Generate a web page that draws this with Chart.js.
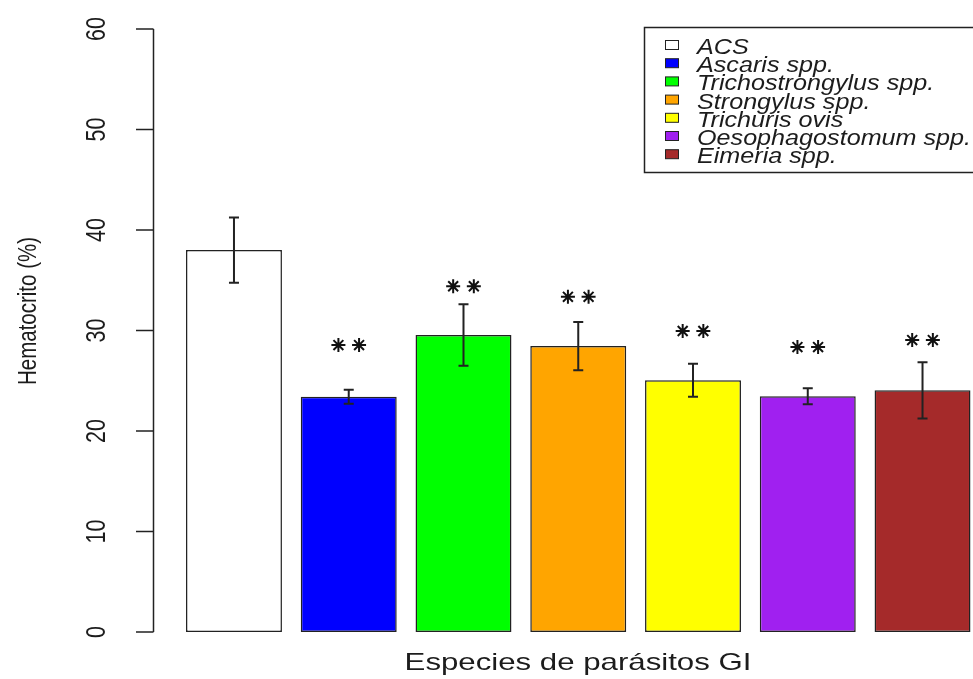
<!DOCTYPE html>
<html>
<head>
<meta charset="utf-8">
<title>Hematocrito por especie de parásito</title>
<script src="https://cdn.jsdelivr.net/npm/chart.js@4.4.1/dist/chart.umd.min.js"></script>
<style>
    html, body { margin: 0; padding: 0; background: #fff; overflow: hidden; }
    #chart { position: absolute; left: 0; top: 0; }
</style>
</head>
<body>
<canvas id="chart" width="990" height="679"></canvas>
<script>
const especies = ['ACS', 'Ascaris spp.', 'Trichostrongylus spp.', 'Strongylus spp.', 'Trichuris ovis', 'Oesophagostomum spp.', 'Eimeria spp.'];
const hematocrito = [38.0, 23.4, 29.55, 28.45, 25.05, 23.45, 24.05];
const errorBarra = [3.25, 0.7, 3.05, 2.4, 1.65, 0.8, 2.8];
// altura de los "**" (null = sin diferencia)
const alturaAsteriscos = [null, 28.55, 34.4, 33.35, 29.95, 28.35, 29.05];
const coloresBarras = ['#ffffff', '#0000ff', '#00ff00', '#ffa500', '#ffff00', '#a020f0', '#a52a2a'];
const ticksY = [0, 10, 20, 30, 40, 50, 60];

const TEXTO = '#1c1c1c';
const ESTIRA = 1.28; // the picture is wider than tall, text too

const puntosAsteriscos = [];
alturaAsteriscos.forEach((h, i) => {
    if (h !== null) {
        puntosAsteriscos.push({ x: i - 0.09, y: h });
        puntosAsteriscos.push({ x: i + 0.09, y: h });
    }
});

function drawText(ctx, text, x, y, size, sx, rot, align) {
    ctx.save();
    ctx.translate(x, y);
    ctx.scale(sx, 1);
    ctx.rotate(rot);
    ctx.font = size + 'px "Liberation Sans", Arial, sans-serif';
    ctx.textAlign = align || 'center';
    ctx.textBaseline = 'middle';
    ctx.fillStyle = TEXTO;
    ctx.fillText(text, 0, 0);
    ctx.restore();
}

const errorBars = {
    id: 'errorBars',
    afterDatasetsDraw(chart) {
        const ctx = chart.ctx;
        const y = chart.scales.y;
        const bars = chart.getDatasetMeta(0).data;
        ctx.save();
        ctx.strokeStyle = '#222';
        ctx.lineWidth = 2;
        bars.forEach((bar, i) => {
            const top = y.getPixelForValue(hematocrito[i] + errorBarra[i]);
            const bottom = y.getPixelForValue(hematocrito[i] - errorBarra[i]);
            ctx.beginPath();
            ctx.moveTo(bar.x, top);
            ctx.lineTo(bar.x, bottom);
            ctx.moveTo(bar.x - 5, top);
            ctx.lineTo(bar.x + 5, top);
            ctx.moveTo(bar.x - 5, bottom);
            ctx.lineTo(bar.x + 5, bottom);
            ctx.stroke();
        });
        ctx.restore();
    }
};

const axisAndLegend = {
    id: 'axisAndLegend',
    afterDraw(chart) {
        const ctx = chart.ctx;
        const y = chart.scales.y;

        // y axis, R style, set apart from the bars
        ctx.save();
        ctx.strokeStyle = '#222';
        ctx.lineWidth = 1.5;
        ctx.beginPath();
        ctx.moveTo(153.5, y.getPixelForValue(ticksY[0]));
        ctx.lineTo(153.5, y.getPixelForValue(ticksY[ticksY.length - 1]));
        ticksY.forEach((t) => {
            const py = y.getPixelForValue(t);
            ctx.moveTo(136, py);
            ctx.lineTo(153.5, py);
        });
        ctx.stroke();
        ctx.restore();

        ticksY.forEach((t) => {
            drawText(ctx, String(t), 97, y.getPixelForValue(t), 21.5, ESTIRA, -Math.PI / 2);
        });

        drawText(ctx, 'Hematocrito (%)', 29, 311, 20.5, ESTIRA, -Math.PI / 2);
        drawText(ctx, 'Especies de parásitos GI', 578, 663, 24, 1.3, 0);

        // legend
        ctx.save();
        ctx.strokeStyle = '#222';
        ctx.lineWidth = 1.5;
        ctx.strokeRect(644.5, 27.5, 400, 145);
        especies.forEach((nombre, i) => {
            const cy = 45 + i * 18.2;
            ctx.fillStyle = coloresBarras[i];
            ctx.fillRect(665.5, cy - 4.5, 13, 9);
            ctx.lineWidth = 1;
            ctx.strokeRect(665.5, cy - 4.5, 13, 9);
        });
        ctx.restore();
        especies.forEach((nombre, i) => {
            const cy = 45 + i * 18.2;
            ctx.save();
            ctx.translate(697, cy + 3);
            ctx.scale(1.17, 1);
            ctx.font = 'italic 21.5px "Liberation Sans", Arial, sans-serif';
            ctx.textAlign = 'left';
            ctx.textBaseline = 'middle';
            ctx.fillStyle = TEXTO;
            ctx.fillText(nombre, 0, 0);
            ctx.restore();
        });
    }
};

new Chart(document.getElementById('chart'), {
    type: 'bar',
    data: {
        labels: especies,
        datasets: [
            {
                type: 'bar',
                data: hematocrito,
                backgroundColor: coloresBarras,
                borderColor: '#222',
                borderWidth: 1.5,
                borderSkipped: false,
                barPercentage: 0.836,
                categoryPercentage: 1,
                grouped: false,
                order: 2
            },
            {
                type: 'line',
                xAxisID: 'xs',
                data: puntosAsteriscos,
                showLine: false,
                pointStyle: 'star',
                pointRadius: 7,
                pointBorderColor: '#111',
                pointBorderWidth: 2,
                order: 1
            }
        ]
    },
    options: {
        responsive: false,
        animation: false,
        events: [],
        layout: {
            padding: { left: 176.6, right: 10.1, top: 29, bottom: 47 }
        },
        plugins: {
            legend: { display: false },
            tooltip: { enabled: false }
        },
        scales: {
            x: { display: false },
            xs: { type: 'linear', position: 'bottom', display: false, min: -0.5, max: 6.5, offset: false },
            y: { display: false, min: 0, max: 60 }
        }
    },
    plugins: [errorBars, axisAndLegend]
});
</script>
</body>
</html>
